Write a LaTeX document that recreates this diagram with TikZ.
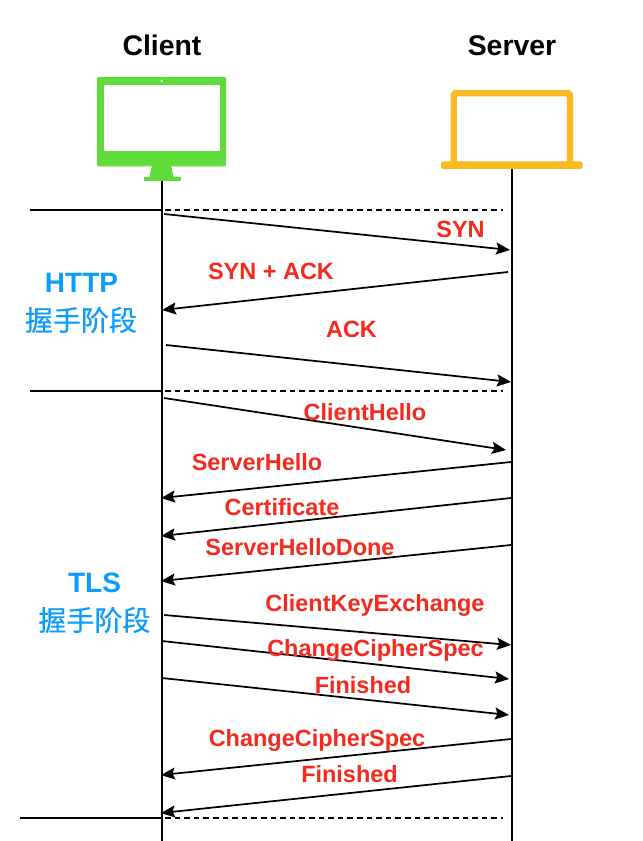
\documentclass[tikz,border=0pt]{standalone}
\usepackage{fontspec}
\setmainfont{Liberation Sans}
\newfontfamily\cjkfont[FakeBold=0.35]{Noto Sans CJK SC}
\usetikzlibrary{arrows.meta}
\definecolor{msgred}{HTML}{F5291C}
\definecolor{phaseblue}{HTML}{0C9CFC}
\definecolor{clientgreen}{HTML}{60DC3A}
\definecolor{serverorange}{HTML}{FBBA22}
\tikzset{
  x=0.75pt,y=-0.75pt,
  life/.style={black,line width=1.5pt},
  msg/.style={black,line width=1.3pt,-{Stealth[length=10.5pt,width=9pt,inset=1.8pt]}},
  rule/.style={black,line width=1.5pt},
  dashrule/.style={black,line width=1.5pt,dash pattern=on 4.2pt off 3pt},
  head/.style={font=\fontsize{21.3}{21}\selectfont\bfseries,text=black,inner sep=0pt},
  msglabel/.style={font=\fontsize{17.6}{18}\selectfont\bfseries,text=msgred,inner sep=0pt},
  phase/.style={font=\fontsize{21}{21}\selectfont\bfseries,text=phaseblue,inner sep=0pt},
  phasecn/.style={font=\fontsize{21}{21}\selectfont\cjkfont,text=phaseblue,inner sep=0pt},
}
\begin{document}
\begin{tikzpicture}
\useasboundingbox (0,0) rectangle (642,841);
\fill[white] (0,0) rectangle (642,841);
% titles
\node[head] (clientT) at (162,45) {Client};
\node[head] (serverT) at (512,45.5) {Server};
% client monitor
\fill[clientgreen,rounded corners=1.5pt] (97,77) rectangle (226,166.5);
\fill[white] (104,85) rectangle (219.5,151);
\fill[white] (161.7,80.8) circle (1.3);
\fill[clientgreen] (152,166) -- (171,166) -- (174,178) -- (149,178) -- cycle;
\fill[clientgreen] (143.5,177) rectangle (181,181.5);
% server laptop
\draw[serverorange,line width=4.6pt,rounded corners=1pt] (453.7,163) -- (453.7,93.3) -- (570,93.3) -- (570,163);
\fill[serverorange,rounded corners=1.5pt] (441,161.5) rectangle (582.5,169);
% anchors
\coordinate (cTop) at (161.5,181);
\coordinate (cBot) at (161.5,841);
\coordinate (sTop) at (511.5,169);
\coordinate (sBot) at (511.5,841);
\draw[life] (cTop) -- (cBot);
\draw[life] (sTop) -- (sBot);
% phase rules
\coordinate (r1a) at (30,210);  \coordinate (r1b) at (161,210);
\coordinate (d1a) at (165,210);   \coordinate (d1b) at (503,210);
\coordinate (r2a) at (30,391);    \coordinate (r2b) at (161,391);
\coordinate (d2a) at (165,391);   \coordinate (d2b) at (503,391);
\coordinate (r3a) at (20,818);  \coordinate (r3b) at (161,818);
\coordinate (d3a) at (165,818); \coordinate (d3b) at (503,818);
\draw[rule] (r1a) -- (r1b);
\draw[rule] (r2a) -- (r2b);
\draw[rule] (r3a) -- (r3b);
\draw[dashrule] (d1a) -- (d1b);
\draw[dashrule] (d2a) -- (d2b);
\draw[dashrule] (d3a) -- (d3b);
% messages
\foreach \n/\ax/\ay/\bx/\by in {
  m1/164/214/510/250, m2/508/272/162/310, m3/166/345/511/382,
  m4/164/398/506/450, m5/511/462/161/498, m6/511/498/161/536,
  m7/511/545/161/581, m8/164/615/511/645, m9/162/641/509/679,
  m10/162/678/509/715, m11/511/739/161/775, m12/511/776/161/813}{
  \coordinate (\n a) at (\ax,\ay);
  \coordinate (\n b) at (\bx,\by);
  \draw[msg] (\n a) -- (\n b);
}
% labels
\node[msglabel] (l1) at (460.5,229) {SYN};
\node[msglabel] (l2) at (271,271) {SYN + ACK};
\node[msglabel] (l3) at (351.5,329) {ACK};
\node[msglabel] (l4) at (365,412.5) {ClientHello};
\node[msglabel] (l5) at (257,462.5) {ServerHello};
\node[msglabel] (l6) at (282,507.5) {Certificate};
\node[msglabel] (l7) at (300,547.5) {ServerHelloDone};
\node[msglabel] (l8) at (375,605) {ClientKeyExchange};
\node[msglabel] (l9) at (375.5,650.5) {ChangeCipherSpec};
\node[msglabel] (l10) at (363,685) {Finished};
\node[msglabel] (l11) at (317,740) {ChangeCipherSpec};
\node[msglabel] (l12) at (349.5,774) {Finished};
% phases
\node[phase] (p1) at (81.5,283) {HTTP};
\node[phasecn] (p1c) at (81,320) {握手阶段};
\node[phase] (p2) at (94.5,583) {TLS};
\node[phasecn] (p2c) at (94.5,620) {握手阶段};
\end{tikzpicture}
\end{document}
